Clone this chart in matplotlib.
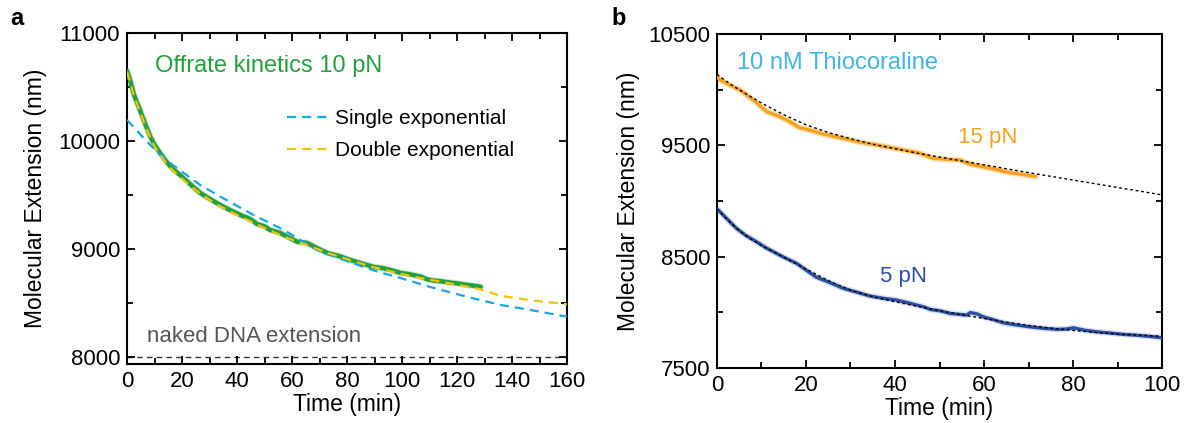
import matplotlib
matplotlib.use("Agg")
import matplotlib.pyplot as plt
from matplotlib.ticker import MultipleLocator

plt.rcParams['font.family'] = ['Liberation Sans', 'DejaVu Sans']

# ---------------- Panel a data ----------------
t_green = [0, 1.1, 2.5, 4.7, 6.5, 8.4, 10, 12, 14, 15.7, 17.5, 19.3, 23, 26.6, 30, 33.9, 37.5, 41.2, 44.8,
           47.4, 50, 52, 55.8, 58.5, 61.8, 65.5, 69, 72.8, 77, 81.3, 85.5, 89.8, 92.5, 95.8, 99.5,
           103, 106.8, 109, 111.5, 114.5, 117.7, 120.5, 123.8, 126, 128.6]
y_green = [10650, 10565, 10430, 10287, 10165, 10045, 9965, 9889, 9820, 9765, 9722, 9685, 9600, 9519, 9465, 9407,
           9360, 9315, 9278, 9230, 9210, 9176, 9148, 9110, 9068, 9056, 9010, 8963, 8935, 8898, 8865, 8833,
           8825, 8806, 8778, 8765, 8744, 8720, 8707, 8700, 8688, 8680, 8667, 8660, 8650]

t_double = [0, 1.1, 2.5, 4.7, 6.5, 8.4, 10, 12, 15.7, 19.3, 23, 26.6, 30, 33.9, 41.2, 47.4, 52, 58.5, 65.5,
            72.8, 81.3, 89.8, 99.5, 106.8, 117.7, 128, 136, 148, 160]
y_double = [10640, 10550, 10420, 10275, 10150, 10035, 9950, 9870, 9750, 9665, 9585, 9515, 9455, 9395, 9300,
            9225, 9170, 9100, 9035, 8965, 8895, 8830, 8770, 8730, 8680, 8630, 8565, 8522, 8488]

t_single = [0, 8.4, 15.7, 26.6, 33.9, 46, 57, 69, 78.8, 89.8, 99.5, 111.5, 123.8, 136, 148, 160]
y_single = [10195, 9963, 9796, 9593, 9485, 9315, 9176, 8991, 8898, 8800, 8731, 8639, 8556, 8481, 8429, 8373]

naked_dna = 8000

# ---------------- Panel b data ----------------
t_15 = [0, 0.7, 3, 5.2, 8.2, 11.2, 14, 16.4, 18.5, 20.9, 24, 28.4, 32, 35.9, 39, 42.6, 45.5, 48.6, 51.5,
        54.6, 57, 59.8, 62.5, 65.8, 68.5, 71.5]
y_15 = [10116, 10087, 10040, 9997, 9907, 9802, 9760, 9712, 9660, 9637, 9600, 9563, 9530, 9503, 9480, 9452,
        9430, 9383, 9375, 9368, 9330, 9308, 9285, 9254, 9240, 9220]

t_15fit = [0, 3, 6, 10, 15, 20, 25, 30, 35, 40, 45, 50, 55, 60, 65, 70, 76, 82, 88, 94, 100]
y_15fit = [10135, 10050, 9975, 9880, 9775, 9685, 9615, 9560, 9510, 9470, 9430, 9395, 9360, 9325, 9290,
           9255, 9215, 9175, 9135, 9095, 9055]

t_5 = [0, 0.3, 2.5, 4.4, 6.5, 8.9, 11, 13.4, 15.5, 17.9, 20, 22.4, 25.5, 28.4, 31.5, 34.4, 37.5, 40.4,
       43.5, 46.4, 47.9, 50.1, 52.4, 55, 56.1, 56.9, 58.5, 59.8, 62, 64.3, 67, 70.3, 73, 76.3, 78.5,
       80.1, 82.5, 85.3, 88, 91.3, 94, 97, 100]
y_5 = [8925, 8919, 8830, 8754, 8690, 8634, 8580, 8529, 8485, 8440, 8380, 8314, 8265, 8215, 8180, 8146, 8125,
       8110, 8080, 8050, 8026, 8014, 7990, 7980, 7975, 7998, 7985, 7960, 7935, 7906, 7888, 7870, 7858, 7847,
       7850, 7861, 7840, 7825, 7815, 7802, 7795, 7785, 7772]

t_5fit = [0, 2.5, 5, 7.5, 10, 15, 20, 25, 30, 35, 40, 45, 50, 55, 60, 65, 70, 75, 80, 85, 90, 95, 100]
y_5fit = [8930, 8825, 8735, 8660, 8600, 8495, 8390, 8285, 8200, 8140, 8095, 8055, 8015, 7978, 7945, 7912,
          7882, 7858, 7838, 7820, 7805, 7795, 7785]

# ---------------- Styling ----------------
GREEN = '#23a03c'
YELLOW = '#f9c20a'
LBLUE = '#1aa7e1'
ORANGE = '#f6a21e'
DBLUE = '#28509f'
TBLUE = '#43b4e4'

fig = plt.figure(figsize=(11.87, 4.23), dpi=100)
axa = fig.add_axes([0.107, 0.1395, 0.3707, 0.7825])
axb = fig.add_axes([0.604, 0.130, 0.375, 0.7896])

TICKFS = 16
LABELFS = 16.5

def style(ax):
    for s in ax.spines.values():
        s.set_linewidth(1.5)
    ax.tick_params(which='both', direction='in', top=True, right=True, labelsize=TICKFS, width=1.3,
                   pad=5)
    ax.tick_params(which='major', length=6)
    ax.tick_params(which='minor', length=4)

# Panel a
axa.plot(t_green, y_green, color=GREEN, lw=4.5, alpha=0.25, solid_capstyle='round', zorder=2)
axa.plot(t_green, y_green, color=GREEN, lw=3.2, solid_capstyle='round', zorder=3)
l1, = axa.plot(t_single, y_single, color=LBLUE, lw=1.6, dashes=(4.1, 2.7), label='Single exponential', zorder=4)
l2, = axa.plot(t_double, y_double, color=YELLOW, lw=1.6, dashes=(4.1, 2.7), label='Double exponential', zorder=4)
axa.axhline(naked_dna, color='#333333', lw=1.0, dashes=(4, 3), zorder=1)
axa.set_xlim(0, 160)
axa.set_ylim(7935, 11000)
axa.xaxis.set_major_locator(MultipleLocator(20))
axa.xaxis.set_minor_locator(MultipleLocator(10))
axa.yaxis.set_major_locator(MultipleLocator(1000))
axa.yaxis.set_minor_locator(MultipleLocator(500))
style(axa)
axa.set_xlabel('Time (min)', fontsize=LABELFS, labelpad=1)
axa.set_ylabel('Molecular Extension (nm)', fontsize=LABELFS, labelpad=8)
axa.text(0.064, 0.90, 'Offrate kinetics 10 pN', transform=axa.transAxes, color=GREEN, fontsize=17,
         va='center', ha='left')
axa.text(0.045, 0.082, 'naked DNA extension', transform=axa.transAxes, color='#555555', fontsize=16,
         va='center', ha='left')
axa.legend(handles=[l1, l2], loc='upper left', bbox_to_anchor=(0.345, 0.795), frameon=False,
           fontsize=15, handlelength=1.9, handletextpad=0.42, labelspacing=0.62, borderaxespad=0)

# Panel b
axb.plot(t_15, y_15, color=ORANGE, lw=4.5, alpha=0.3, zorder=2)
axb.plot(t_15, y_15, color=ORANGE, lw=2.4, zorder=3)
axb.plot(t_15fit, y_15fit, color='black', lw=1.0, dashes=(2, 2), zorder=4)
axb.plot(t_5, y_5, color='#9aa8e0', lw=4.5, alpha=0.35, zorder=2)
axb.plot(t_5, y_5, color=DBLUE, lw=2.4, zorder=3)
axb.plot(t_5fit, y_5fit, color='black', lw=1.0, dashes=(2, 2), zorder=4)
axb.set_xlim(0, 100)
axb.set_ylim(7500, 10500)
axb.xaxis.set_major_locator(MultipleLocator(20))
axb.xaxis.set_minor_locator(MultipleLocator(10))
axb.set_yticks([7500, 8500, 9500, 10500])
axb.set_yticks([8000, 9000, 10000], minor=True)
style(axb)
axb.set_xlabel('Time (min)', fontsize=LABELFS, labelpad=1)
axb.set_ylabel('Molecular Extension (nm)', fontsize=LABELFS, labelpad=6)
axb.text(0.045, 0.913, '10 nM Thiocoraline', transform=axb.transAxes, color=TBLUE, fontsize=17,
         va='center', ha='left')
axb.text(0.542, 0.689, '15 pN', transform=axb.transAxes, color=ORANGE, fontsize=16,
         va='center', ha='left')
axb.text(0.366, 0.275, '5 pN', transform=axb.transAxes, color=DBLUE, fontsize=16,
         va='center', ha='left')

fig.text(0.009, 0.957, 'a', fontsize=17, fontweight='bold', va='center', ha='left')
fig.text(0.515, 0.957, 'b', fontsize=17, fontweight='bold', va='center', ha='left')

fig.savefig('out.png', dpi=100)
